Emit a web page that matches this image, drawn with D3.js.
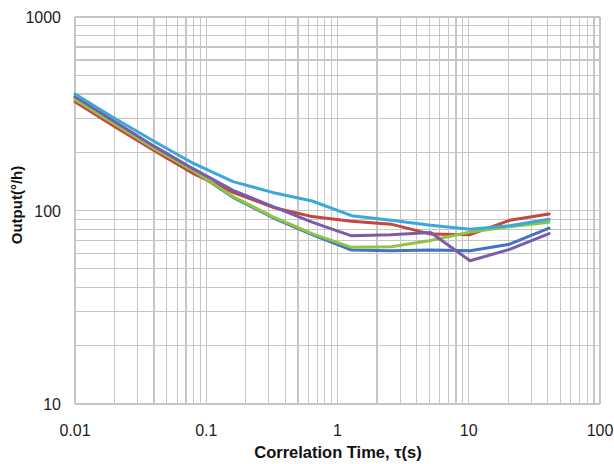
<!DOCTYPE html>
<html>
<head>
<meta charset="utf-8">
<script src="https://cdn.jsdelivr.net/npm/d3@7"></script>
<style>
  body { margin: 0; background: #fff; }
  svg { display: block; font-family: "Liberation Sans", Arial, sans-serif; }
</style>
</head>
<body>
<div id="chart"></div>
<script>
// cluster times (s)
const tau = [0.01, 0.02, 0.04, 0.08, 0.16, 0.32, 0.64, 1.28, 2.56, 5.12, 10.24, 20.48, 40.96];

// output (deg/h), one array per trace
const blueVals   = [382, 284, 212, 160, 117, 92, 75, 62.5, 62, 62.5, 62, 67, 81];
const redVals    = [365, 272, 204, 155, 124, 104, 93, 88, 85, 75.5, 75, 89, 96];
const greenVals  = [375, 280, 209, 160, 118, 93, 76, 64.5, 65, 70, 77.5, 82.5, 87];
const purpleVals = [388, 288, 215, 164, 127, 105, 87, 74, 75, 77, 55, 63, 76];
const cyanVals   = [400, 300, 228, 175, 141, 124, 112, 94, 89, 84, 80, 83.5, 90];

const xTicks = [0.01, 0.1, 1, 10, 100];
const yTicks = [10, 100, 1000];

const series = [
  { name: "blue",   color: "#4472C4", values: blueVals },
  { name: "red",    color: "#C4463F", values: redVals },
  { name: "green",  color: "#8DC644", values: greenVals },
  { name: "purple", color: "#7A5CA8", values: purpleVals },
  { name: "cyan",   color: "#3AA8DA", values: cyanVals }
];

const W = 614, H = 464;
const m = { left: 75, right: 14, top: 17, bottom: 60 };

const svg = d3.select("#chart").append("svg")
  .attr("width", W).attr("height", H);

const x = d3.scaleLog().domain([0.01, 100]).range([m.left, W - m.right]);
const y = d3.scaleLog().domain([10, 1000]).range([H - m.bottom, m.top]);

// grid: minor lines 1..9 per decade
const gx = [], gy = [];
for (let d = 0.01; d < 100; d *= 10) for (let k = 1; k < 10; k++) gx.push(d * k);
gx.push(100);
for (let d = 10; d < 1000; d *= 10) for (let k = 1; k < 10; k++) gy.push(d * k);
gy.push(1000);

const grid = svg.append("g");
grid.selectAll("line.v").data(gx).join("line")
  .attr("x1", d => x(d)).attr("x2", d => x(d))
  .attr("y1", y(10)).attr("y2", y(1000))
  .attr("stroke", "#c6c6c6").attr("stroke-width", 1.2)
  .attr("shape-rendering", "crispEdges");
grid.selectAll("line.h").data(gy).join("line")
  .attr("y1", d => y(d)).attr("y2", d => y(d))
  .attr("x1", x(0.01)).attr("x2", x(100))
  .attr("stroke", "#c6c6c6").attr("stroke-width", 1.2)
  .attr("shape-rendering", "crispEdges");

// tick labels
svg.selectAll("text.xt").data(xTicks).join("text")
  .attr("x", d => x(d)).attr("y", 436)
  .attr("text-anchor", "middle")
  .style("font-size", "16px").attr("fill", "#222")
  .text(d => d);

svg.selectAll("text.yt").data(yTicks).join("text")
  .attr("x", 61).attr("y", d => y(d) + 6)
  .attr("text-anchor", "end")
  .style("font-size", "16px").attr("fill", "#222")
  .text(d => d);

// axis titles
svg.append("text")
  .attr("x", 338).attr("y", 458)
  .attr("text-anchor", "middle")
  .style("font-size", "16.5px").style("font-weight", "bold").attr("fill", "#111")
  .text("Correlation Time, τ(s)");

svg.append("text")
  .attr("transform", "translate(22,205) rotate(-90)")
  .attr("text-anchor", "middle")
  .style("font-size", "15px").style("font-weight", "bold").attr("fill", "#111")
  .text("Output(°/h)");

// traces
const line = d3.line()
  .x((d, i) => x(tau[i]))
  .y(d => y(d));

svg.append("g").selectAll("path").data(series).join("path")
  .attr("d", s => line(s.values))
  .attr("fill", "none")
  .attr("stroke", s => s.color)
  .attr("stroke-width", 3)
  .attr("stroke-linejoin", "round")
  .attr("stroke-linecap", "round");
</script>
</body>
</html>
